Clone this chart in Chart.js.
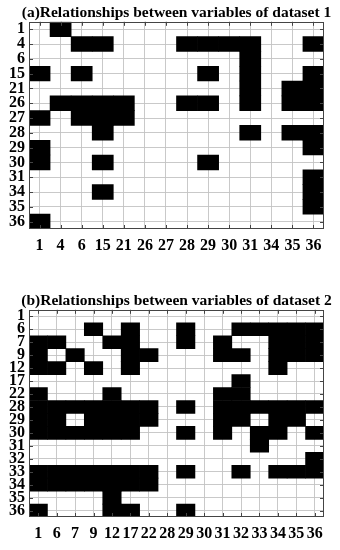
<!DOCTYPE html>
<html>
<head>
<meta charset="utf-8">
<script src="https://cdn.jsdelivr.net/npm/chart.js@4/dist/chart.umd.min.js"></script>
<style>
  body { margin: 0; background: #fff; }
  .box { position: absolute; left: 0; width: 340px; height: 259px; }
</style>
</head>
<body>
<div class="box" style="top:0px"><canvas id="chartA"></canvas></div>
<div class="box" style="top:288px"><canvas id="chartB"></canvas></div>
<script>
// dataset 1 variables (same order on both axes)
const varsA = ["1", "4", "6", "15", "21", "26", "27", "28", "29", "30", "31", "34", "35", "36"];
const cellsA = [
  [0,1,0,0,0,0,0,0,0,0,0,0,0,0],
  [0,0,1,1,0,0,0,1,1,1,1,0,0,1],
  [0,0,0,0,0,0,0,0,0,0,1,0,0,0],
  [1,0,1,0,0,0,0,0,1,0,1,0,0,1],
  [0,0,0,0,0,0,0,0,0,0,1,0,1,1],
  [0,1,1,1,1,0,0,1,1,0,1,0,1,1],
  [1,0,1,1,1,0,0,0,0,0,0,0,0,0],
  [0,0,0,1,0,0,0,0,0,0,1,0,1,1],
  [1,0,0,0,0,0,0,0,0,0,0,0,0,1],
  [1,0,0,1,0,0,0,0,1,0,0,0,0,0],
  [0,0,0,0,0,0,0,0,0,0,0,0,0,1],
  [0,0,0,1,0,0,0,0,0,0,0,0,0,1],
  [0,0,0,0,0,0,0,0,0,0,0,0,0,1],
  [1,0,0,0,0,0,0,0,0,0,0,0,0,0]
];

// dataset 2 variables
const varsB = ["1", "6", "7", "9", "12", "17", "22", "28", "29", "30", "31", "32", "33", "34", "35", "36"];
const cellsB = [
  [0,0,0,0,0,0,0,0,0,0,0,0,0,0,0,0],
  [0,0,0,1,0,1,0,0,1,0,0,1,1,1,1,1],
  [1,1,0,0,1,1,0,0,1,0,1,0,0,1,1,1],
  [1,0,1,0,0,1,1,0,0,0,1,1,0,1,1,1],
  [1,1,0,1,0,1,0,0,0,0,0,0,0,1,0,0],
  [0,0,0,0,0,0,0,0,0,0,0,1,0,0,0,0],
  [1,0,0,0,1,0,0,0,0,0,1,1,0,0,0,0],
  [1,1,1,1,1,1,1,0,1,0,1,1,1,1,1,1],
  [1,1,0,1,1,1,1,0,0,0,1,1,0,1,1,0],
  [1,1,1,1,1,1,0,0,1,0,1,0,1,1,0,1],
  [0,0,0,0,0,0,0,0,0,0,0,0,1,0,0,0],
  [0,0,0,0,0,0,0,0,0,0,0,0,0,0,0,1],
  [1,1,1,1,1,1,1,0,1,0,0,1,0,1,1,1],
  [1,1,1,1,1,1,1,0,0,0,0,0,0,0,0,0],
  [0,0,0,0,1,0,0,0,0,0,0,0,0,0,0,0],
  [1,0,0,0,1,1,0,0,1,0,0,0,0,0,0,0]
];

const titleA = "(a)Relationships between variables of dataset 1";
const titleB = "(b)Relationships between variables of dataset 2";

const serif = "'Liberation Serif', 'Times New Roman', serif";
const font = { family: serif, size: 16, weight: "bold" };
const gridStyle = { color: "rgba(195,195,195,0.9)", lineWidth: 1, borderDash: [1, 2], drawTicks: false, offset: false };

// frame + small inward tick marks, like the original figure
const framePlugin = {
  id: "frame",
  afterDraw(chart) {
    const { ctx, chartArea: a, scales } = chart;
    ctx.save();
    ctx.strokeStyle = "#444";
    ctx.lineWidth = 1;
    ctx.strokeRect(Math.round(a.left) + 0.5, Math.round(a.top) + 0.5, Math.round(a.right - a.left) - 1, Math.round(a.bottom - a.top) - 1);
    ctx.beginPath();
    scales.x.ticks.forEach((t, i) => {
      const x = Math.round(scales.x.getPixelForTick(i)) + 0.5;
      ctx.moveTo(x, a.bottom); ctx.lineTo(x, a.bottom - 4);
      ctx.moveTo(x, a.top); ctx.lineTo(x, a.top + 4);
    });
    scales.y.ticks.forEach((t, i) => {
      const y = Math.round(scales.y.getPixelForTick(i)) + 0.5;
      ctx.moveTo(a.left, y); ctx.lineTo(a.left + 4, y);
      ctx.moveTo(a.right, y); ctx.lineTo(a.right - 4, y);
    });
    ctx.stroke();
    ctx.restore();
  }
};

function makeChart(id, vars, cells, title) {
  const datasets = cells.map((row, r) => ({
    label: vars[r],
    data: row.map(v => (v ? [r - 0.5, r + 0.5] : null)),
    backgroundColor: "#000",
    borderWidth: 0,
    barPercentage: 1,
    categoryPercentage: 1,
    grouped: false
  }));

  return new Chart(document.getElementById(id), {
    type: "bar",
    data: { labels: vars, datasets: datasets },
    plugins: [framePlugin],
    options: {
      responsive: true,
      maintainAspectRatio: false,
      animation: false,
      // negative right padding + a blank right axis keep the title centred on the plot
      layout: { padding: { left: 0, right: -13, top: 0, bottom: 0 } },
      plugins: {
        legend: { display: false },
        tooltip: { enabled: false },
        title: {
          display: true,
          text: title,
          color: "#000",
          font: { family: serif, size: 15.5, weight: "bold", lineHeight: 1.15 },
          padding: { top: 4, bottom: 0 }
        }
      },
      scales: {
        x: {
          z: 1,
          grid: gridStyle,
          border: { display: false },
          ticks: { color: "#000", font: font, padding: 7, maxRotation: 0, autoSkip: false },
          afterFit(scale) { scale.height = 30; }
        },
        y: {
          type: "linear",
          z: 1,
          reverse: true,
          min: -0.5,
          max: vars.length - 0.5,
          grid: gridStyle,
          border: { display: false },
          afterBuildTicks(scale) { scale.ticks = vars.map((v, i) => ({ value: i })); },
          ticks: {
            color: "#000",
            font: font,
            padding: 4,
            autoSkip: false,
            callback: (value) => vars[value]
          },
          afterFit(scale) { scale.width = 29; }
        },
        y2: {
          type: "linear",
          position: "right",
          min: 0,
          max: 1,
          grid: { display: false },
          border: { display: false },
          ticks: { display: false },
          afterFit(scale) { scale.width = 29; }
        }
      }
    }
  });
}

makeChart("chartA", varsA, cellsA, titleA);
makeChart("chartB", varsB, cellsB, titleB);
</script>
</body>
</html>
